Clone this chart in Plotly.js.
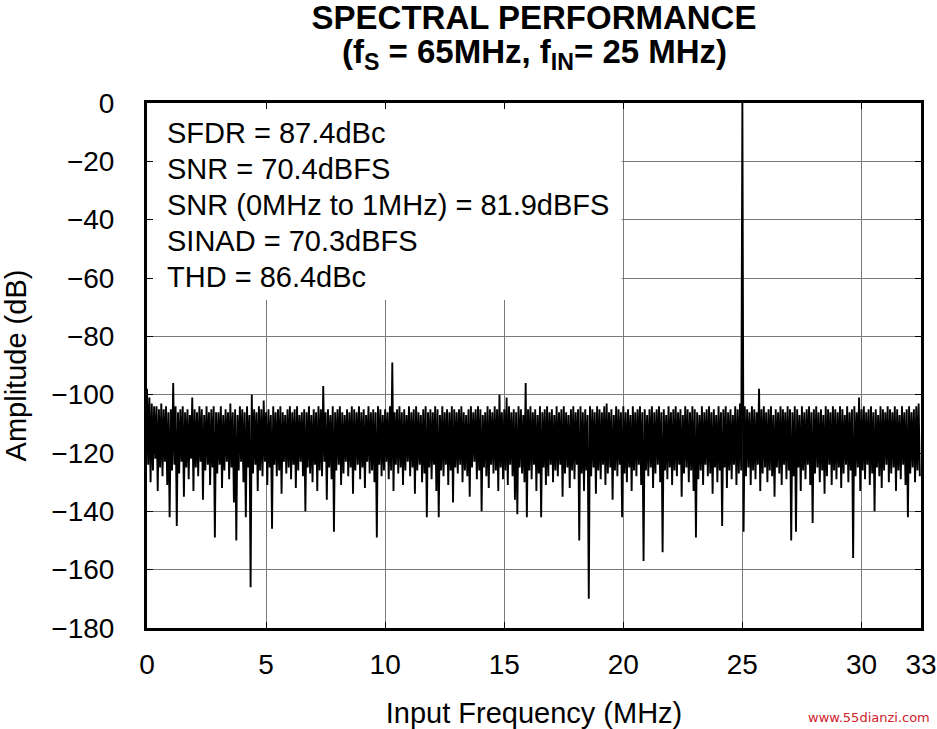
<!DOCTYPE html>
<html><head><meta charset="utf-8">
<script src="https://cdn.plot.ly/plotly-3.0.1.min.js"></script>
<style>html,body{margin:0;padding:0;background:#fff}#chart{width:937px;height:729px}</style>
</head><body><div id="chart"></div>
<script>
// FFT bin spacing of the sampled spectrum envelope (MHz)
const binStep = 0.1;
// Upper excursions of the spectrum, dB, at f = i*binStep (0 .. 32.4 MHz)
const peakLevels = [
-98,-101,-103,-104,-104,-105,-103,-105,-104,-106,
-105,-96,-104,-106,-105,-104,-106,-105,-107,-101,
-105,-106,-104,-105,-107,-104,-106,-105,-104,-106,
-106,-104,-107,-105,-106,-103,-106,-105,-107,-104,
-105,-106,-104,-107,-100,-105,-106,-104,-105,-102,
-106,-105,-107,-104,-106,-105,-104,-106,-107,-105,
-104,-106,-105,-104,-107,-106,-105,-106,-104,-107,
-105,-106,-104,-105,-97,-106,-105,-107,-104,-106,
-105,-104,-106,-107,-105,-106,-104,-105,-106,-104,
-106,-105,-107,-104,-106,-105,-106,-104,-105,-107,
-105,-106,-104,-89,-106,-105,-104,-106,-105,-107,
-104,-106,-105,-104,-106,-107,-105,-104,-106,-105,
-106,-104,-105,-107,-104,-106,-105,-106,-104,-105,
-106,-105,-104,-106,-107,-105,-104,-106,-105,-104,
-105,-107,-106,-104,-105,-106,-104,-105,-100,-106,
-105,-101,-104,-106,-105,-106,-104,-105,-107,-96,
-105,-104,-106,-105,-107,-104,-106,-105,-104,-106,
-105,-107,-104,-106,-105,-104,-106,-107,-105,-104,
-106,-105,-104,-106,-105,-107,-104,-105,-106,-104,
-105,-106,-104,-103,-106,-105,-107,-104,-105,-106,
-104,-106,-105,-107,-104,-106,-105,-104,-106,-105,
-107,-105,-104,-106,-105,-104,-106,-105,-107,-104,
-106,-105,-104,-106,-105,-107,-104,-105,-106,-104,
-105,-106,-107,-104,-106,-105,-104,-106,-105,-107,
-104,-106,-105,-104,-106,-105,-107,-104,-105,-103,
0,-104,-105,-106,-104,-105,-106,-98,-105,-104,
-106,-105,-104,-107,-105,-106,-104,-105,-106,-104,
-105,-106,-104,-105,-107,-104,-106,-105,-104,-106,
-105,-104,-106,-105,-107,-104,-105,-106,-104,-105,
-106,-104,-105,-107,-104,-106,-105,-104,-106,-101,
-105,-104,-106,-105,-104,-106,-105,-107,-104,-105,
-106,-104,-105,-106,-104,-105,-107,-104,-106,-105,
-104,-106,-105,-104,-103
];
// Lower excursions of the spectrum, dB, at f = i*binStep + binStep/2
const troughLevels = [
-124,-130,-126,-122,-133,-125,-128,-123,-131,-142,
-126,-124,-145,-127,-123,-135,-125,-129,-122,-133,
-125,-128,-123,-136,-126,-124,-131,-125,-149,-127,
-124,-132,-126,-123,-129,-125,-137,-150,-126,-123,
-130,-142,-125,-166,-127,-124,-133,-126,-128,-123,
-131,-125,-146,-124,-128,-126,-134,-123,-127,-125,
-129,-124,-132,-126,-123,-128,-140,-125,-127,-130,
-124,-133,-126,-128,-123,-136,-125,-129,-147,-126,
-124,-131,-127,-123,-128,-125,-134,-126,-124,-129,
-125,-132,-123,-127,-126,-130,-149,-124,-128,-126,
-123,-129,-126,-133,-124,-127,-125,-131,-126,-123,
-128,-125,-134,-126,-124,-130,-127,-142,-125,-129,
-124,-133,-142,-126,-128,-124,-131,-126,-137,-125,
-127,-124,-130,-126,-128,-135,-125,-123,-129,-126,
-140,-125,-128,-132,-124,-127,-126,-133,-125,-129,
-126,-131,-124,-128,-136,-141,-125,-127,-130,-142,
-126,-129,-124,-133,-127,-142,-125,-131,-128,-124,
-130,-126,-128,-124,-135,-127,-125,-132,-126,-129,
-124,-150,-127,-133,-126,-170,-128,-125,-134,-126,
-129,-124,-131,-127,-125,-136,-126,-128,-124,-142,
-127,-130,-125,-133,-126,-128,-124,-131,-157,-126,
-128,-125,-132,-127,-124,-130,-154,-126,-129,-125,
-131,-126,-128,-124,-135,-127,-125,-130,-126,-133,
-149,-129,-126,-131,-124,-128,-127,-134,-125,-130,
-126,-145,-125,-132,-126,-129,-124,-131,-127,-126,
-147,-128,-125,-131,-126,-129,-124,-133,-127,-125,
-130,-126,-128,-135,-125,-127,-131,-124,-129,-126,
-150,-128,-147,-125,-133,-126,-129,-124,-131,-144,
-127,-125,-130,-126,-134,-128,-124,-131,-126,-129,
-125,-132,-127,-124,-130,-126,-156,-128,-125,-133,
-126,-129,-124,-131,-127,-140,-125,-128,-132,-126,
-124,-130,-127,-125,-133,-126,-129,-124,-131,-142,
-127,-125,-130,-126,-128
];
const xTickVals = [0, 5, 10, 15, 20, 25, 30, 32.5];
const xTickText = ['0', '5', '10', '15', '20', '25', '30', '33'];
const statLines = [
  'SFDR = 87.4dBc',
  'SNR = 70.4dBFS',
  'SNR (0MHz to 1MHz) = 81.9dBFS',
  'SINAD = 70.3dBFS',
  'THD = 86.4dBc'
];
const titleText = 'SPECTRAL PERFORMANCE';
const subtitleText = '(f<sub>S</sub> = 65MHz, f<sub>IN</sub>= 25 MHz)';

// Build the interleaved spectrum trace
const fx = [], fy = [];
for (let i = 0; i < peakLevels.length; i++) {
  fx.push(i * binStep); fy.push(peakLevels[i]);
  if (i < troughLevels.length) { fx.push(i * binStep + binStep / 2); fy.push(troughLevels[i]); }
}

const FONT = 'Liberation Sans, Arial, Helvetica, sans-serif';
const W = 937, H = 729;
const L = 147, R = 16, T = 103, B = 101;
const PW = W - L - R, PH = H - T - B;
const pyToPaper = py => (PH + T - py) / PH;
const pxToPaper = px => (px - L) / PW;

const annotations = statLines.map((t, k) => ({
  text: t, xref: 'paper', yref: 'paper',
  x: pxToPaper(165), y: pyToPaper(133 + 36 * k),
  xanchor: 'left', yanchor: 'middle', showarrow: false,
  font: {family: FONT, size: 29, color: '#000'}
}));
annotations.push({
  text: subtitleText, xref: 'paper', yref: 'paper', x: 0.5, y: pyToPaper(54),
  xanchor: 'center', yanchor: 'middle', showarrow: false,
  font: {family: FONT, size: 33, color: '#000', weight: 'bold'}
});
annotations.push({
  text: 'www.55dianzi.com', xref: 'paper', yref: 'paper', x: pxToPaper(932), y: pyToPaper(717),
  xanchor: 'right', yanchor: 'middle', showarrow: false,
  font: {family: 'DejaVu Sans, sans-serif', size: 13, color: '#d0202a'}
});

const layout = {
  width: W, height: H,
  margin: {l: L, r: R, t: T, b: B, pad: 0},
  paper_bgcolor: '#fff', plot_bgcolor: '#fff',
  showlegend: false,
  title: {
    text: titleText, x: 0.5, xref: 'paper', xanchor: 'center',
    y: 1 - 17 / H, yref: 'container', yanchor: 'middle',
    font: {family: FONT, size: 33, color: '#000', weight: 'bold'}
  },
  xaxis: {
    range: [0, 32.5], tickmode: 'array', tickvals: xTickVals, ticktext: xTickText,
    ticks: 'inside', ticklen: 6, tickwidth: 1, tickcolor: '#000',
    showline: true, linewidth: 3, linecolor: '#000', mirror: 'ticks',
    showgrid: true, gridcolor: '#7a7a7a', gridwidth: 1, zeroline: false,
    tickfont: {family: FONT, size: 28, color: '#000'}, ticklabelstandoff: 9,
    title: {text: 'Input Frequency (MHz)', font: {family: FONT, size: 29, color: '#000'}, standoff: 27},
    fixedrange: true
  },
  yaxis: {
    range: [-180, 0], dtick: 20, tick0: 0,
    ticks: 'inside', ticklen: 6, tickwidth: 1, tickcolor: '#000',
    showline: true, linewidth: 3, linecolor: '#000', mirror: 'ticks',
    showgrid: true, gridcolor: '#7a7a7a', gridwidth: 1, zeroline: false,
    tickfont: {family: FONT, size: 28, color: '#000'}, ticklabelstandoff: 24,
    title: {text: 'Amplitude (dB)', font: {family: FONT, size: 29, color: '#000'}, standoff: 28},
    fixedrange: true
  },
  shapes: [{
    type: 'rect', xref: 'x', yref: 'y', x0: 0, x1: 19.93, y0: -67.5, y1: 0,
    fillcolor: '#fff', line: {width: 0}, layer: 'between'
  }],
  annotations: annotations
};

const data = [{
  type: 'scatter', mode: 'lines', x: fx, y: fy,
  line: {color: '#000', width: 1.9}, hoverinfo: 'skip'
}];

Plotly.newPlot('chart', data, layout, {staticPlot: true, displayModeBar: false});
</script>
</body></html>
